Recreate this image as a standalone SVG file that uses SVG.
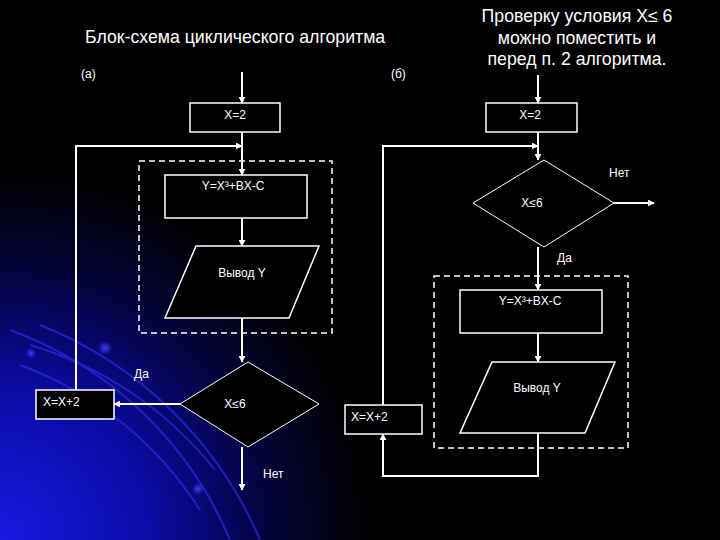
<svg xmlns="http://www.w3.org/2000/svg" width="720" height="540" viewBox="0 0 720 540">
<defs>
<radialGradient id="glow" cx="0" cy="540" r="370" gradientUnits="userSpaceOnUse">
<stop offset="0" stop-color="#1818e0"/>
<stop offset="0.4" stop-color="#0c0ca8"/>
<stop offset="0.75" stop-color="#030335"/>
<stop offset="1" stop-color="#000000"/>
</radialGradient>
<radialGradient id="dot">
<stop offset="0" stop-color="#3a3aff"/>
<stop offset="1" stop-color="#3a3aff" stop-opacity="0"/>
</radialGradient>
<marker id="ah" viewBox="0 0 10 10" refX="9" refY="5" markerWidth="7" markerHeight="7" markerUnits="userSpaceOnUse" orient="auto">
<path d="M0,0 L10,5 L0,10 Z" fill="#fff"/>
</marker>
<style>
.ln{stroke:#fff;stroke-width:2;fill:none}
.bx{stroke:#fff;stroke-width:1.5;fill:#000}
.dg{stroke:#fff;stroke-width:1;fill:#000}
.dash{stroke:#fff;stroke-width:1.5;fill:none;stroke-dasharray:6,4}
.t{font-family:"Liberation Sans",Arial,sans-serif;fill:#fff;font-size:12px}
.h{font-family:"Liberation Sans",Arial,sans-serif;fill:#fff;font-size:17.7px}
</style>
</defs>
<rect width="720" height="540" fill="#000"/>
<rect width="720" height="540" fill="url(#glow)"/>
<g fill="none" stroke="#2a2ae0" stroke-width="2" opacity="0.7">
<path d="M10,330 A380,380 0 0 1 230,540"/>
<path d="M30,345 A370,370 0 0 1 215,470"/>
<path d="M40,325 A400,400 0 0 1 260,540"/>
<path d="M20,365 A360,360 0 0 1 200,510"/>
</g>
<circle cx="105" cy="348" r="7" fill="url(#dot)"/>
<circle cx="31" cy="353" r="5" fill="url(#dot)"/>
<circle cx="198" cy="489" r="6" fill="url(#dot)"/>

<g id="titles">
<text class="h" x="85" y="43">Блок-схема циклического алгоритма</text>
<text class="h" x="577" y="22" text-anchor="middle">Проверку условия X≤ 6</text>
<text class="h" x="577" y="44" text-anchor="middle">можно поместить и</text>
<text class="h" x="577" y="65" text-anchor="middle">перед п. 2 алгоритма.</text>
<text class="t" x="81" y="78">(а)</text>
<text class="t" x="391" y="78">(б)</text>
</g>

<g id="connectors">
<line class="ln" x1="242" y1="72" x2="242" y2="103" marker-end="url(#ah)"/>
<line class="ln" x1="242" y1="132" x2="242" y2="175" marker-end="url(#ah)"/>
<polyline class="ln" points="76,390 76,146 242,146" marker-end="url(#ah)"/>
<line class="ln" x1="242" y1="218" x2="242" y2="246" marker-end="url(#ah)"/>
<line class="ln" x1="242" y1="318" x2="242" y2="362" marker-end="url(#ah)"/>
<line class="ln" x1="180" y1="404" x2="114" y2="404" marker-end="url(#ah)"/>
<line class="ln" x1="242" y1="447" x2="242" y2="490" marker-end="url(#ah)"/>
<line class="ln" x1="538" y1="75" x2="538" y2="103" marker-end="url(#ah)"/>
<line class="ln" x1="538" y1="132" x2="538" y2="160" marker-end="url(#ah)"/>
<polyline class="ln" points="383,405 383,146 538,146" marker-end="url(#ah)"/>
<line class="ln" x1="614" y1="203" x2="654" y2="203" marker-end="url(#ah)"/>
<line class="ln" x1="538" y1="247" x2="538" y2="290" marker-end="url(#ah)"/>
<line class="ln" x1="538" y1="333" x2="538" y2="362" marker-end="url(#ah)"/>
<polyline class="ln" points="538,433 538,476 383,476 383,434" marker-end="url(#ah)"/>
</g>

<g id="a-loop-body"><rect class="dash" x="139" y="161" width="193" height="172"/></g>
<g id="a-x2"><rect class="bx" x="190" y="103" width="90" height="29"/><text class="t" x="235" y="119" text-anchor="middle">X=2</text></g>
<g id="a-calc"><rect class="bx" x="165" y="175" width="142" height="43"/><text class="t" x="233" y="190" text-anchor="middle">Y=X³+BX-C</text></g>
<g id="a-out"><polygon class="bx" points="196,246 319,246 289,318 165,318"/><text class="t" x="242" y="277" text-anchor="middle">Вывод Y</text></g>
<g id="a-cond"><polygon class="dg" points="248,362 319,404 248,447 180,404"/><text class="t" x="235" y="408" text-anchor="middle">X≤6</text></g>
<g id="a-inc"><rect class="bx" x="36" y="390" width="78" height="29"/><text class="t" x="43" y="406">X=X+2</text></g>
<g id="a-labels"><text class="t" x="134" y="378">Да</text><text class="t" x="263" y="478">Нет</text></g>

<g id="b-loop-body"><rect class="dash" x="434" y="276" width="194" height="172"/></g>
<g id="b-x2"><rect class="bx" x="486" y="103" width="91" height="29"/><text class="t" x="530" y="119" text-anchor="middle">X=2</text></g>
<g id="b-cond"><polygon class="dg" points="544,160 614,203 544,247 473,203"/><text class="t" x="532" y="207" text-anchor="middle">X≤6</text></g>
<g id="b-calc"><rect class="bx" x="460" y="290" width="142" height="43"/><text class="t" x="530" y="305" text-anchor="middle">Y=X³+BX-C</text></g>
<g id="b-out"><polygon class="bx" points="492,362 615,362 585,433 460,433"/><text class="t" x="537" y="392" text-anchor="middle">Вывод Y</text></g>
<g id="b-inc"><rect class="bx" x="345" y="405" width="77" height="29"/><text class="t" x="351" y="421">X=X+2</text></g>
<g id="b-labels"><text class="t" x="609" y="177">Нет</text><text class="t" x="557" y="262">Да</text></g>
</svg>
